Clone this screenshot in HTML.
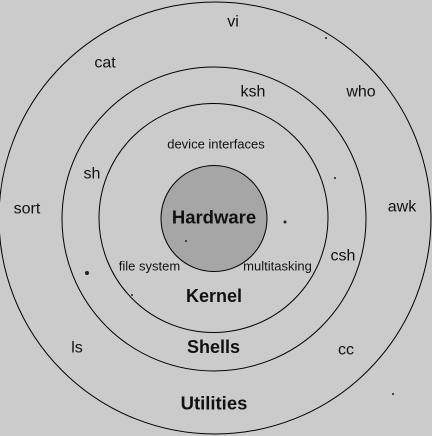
<!DOCTYPE html>
<html><head><style>html,body{margin:0;padding:0;background:#cbcbcb}svg{display:block}</style></head>
<body>
<svg width="432" height="436" viewBox="0 0 432 436" xmlns="http://www.w3.org/2000/svg" font-family="Liberation Sans, sans-serif" fill="#111">
<rect width="432" height="436" fill="#cbcbcb"/>
<g fill="none" stroke="#000" stroke-width="1">
<circle cx="215" cy="218" r="216"/>
<circle cx="214" cy="219" r="152"/>
<circle cx="213.5" cy="218" r="114.5"/>
<circle cx="214" cy="218.5" r="53" fill="#a6a6a6"/>
</g>
<g dominant-baseline="central" text-anchor="middle" font-size="16">
<text x="233" y="22">vi</text>
<text x="105" y="63">cat</text>
<text x="253" y="92">ksh</text>
<text x="361" y="92">who</text>
<text x="216" y="144" font-size="13">device interfaces</text>
<text x="92" y="174">sh</text>
<text x="27" y="209">sort</text>
<text x="402" y="207">awk</text>
<text x="214" y="217" font-size="18.5" font-weight="bold">Hardware</text>
<text x="343" y="256">csh</text>
<text x="149.5" y="266" font-size="13">file system</text>
<text x="277.5" y="266" font-size="13">multitasking</text>
<text x="214" y="296" font-size="18" font-weight="bold">Kernel</text>
<text x="213.5" y="347" font-size="18" font-weight="bold">Shells</text>
<text x="77" y="348">ls</text>
<text x="346" y="350">cc</text>
<text x="214" y="403" font-size="18.5" font-weight="bold">Utilities</text>
</g>
<g fill="#222">
<circle cx="326" cy="38" r="1"/>
<circle cx="335" cy="178" r="1"/>
<circle cx="285" cy="222" r="1.5"/>
<circle cx="186" cy="241" r="1"/>
<circle cx="87" cy="273" r="2"/>
<circle cx="132" cy="295" r="1"/>
<circle cx="393" cy="394" r="1"/>
</g>
</svg>
</body></html>
